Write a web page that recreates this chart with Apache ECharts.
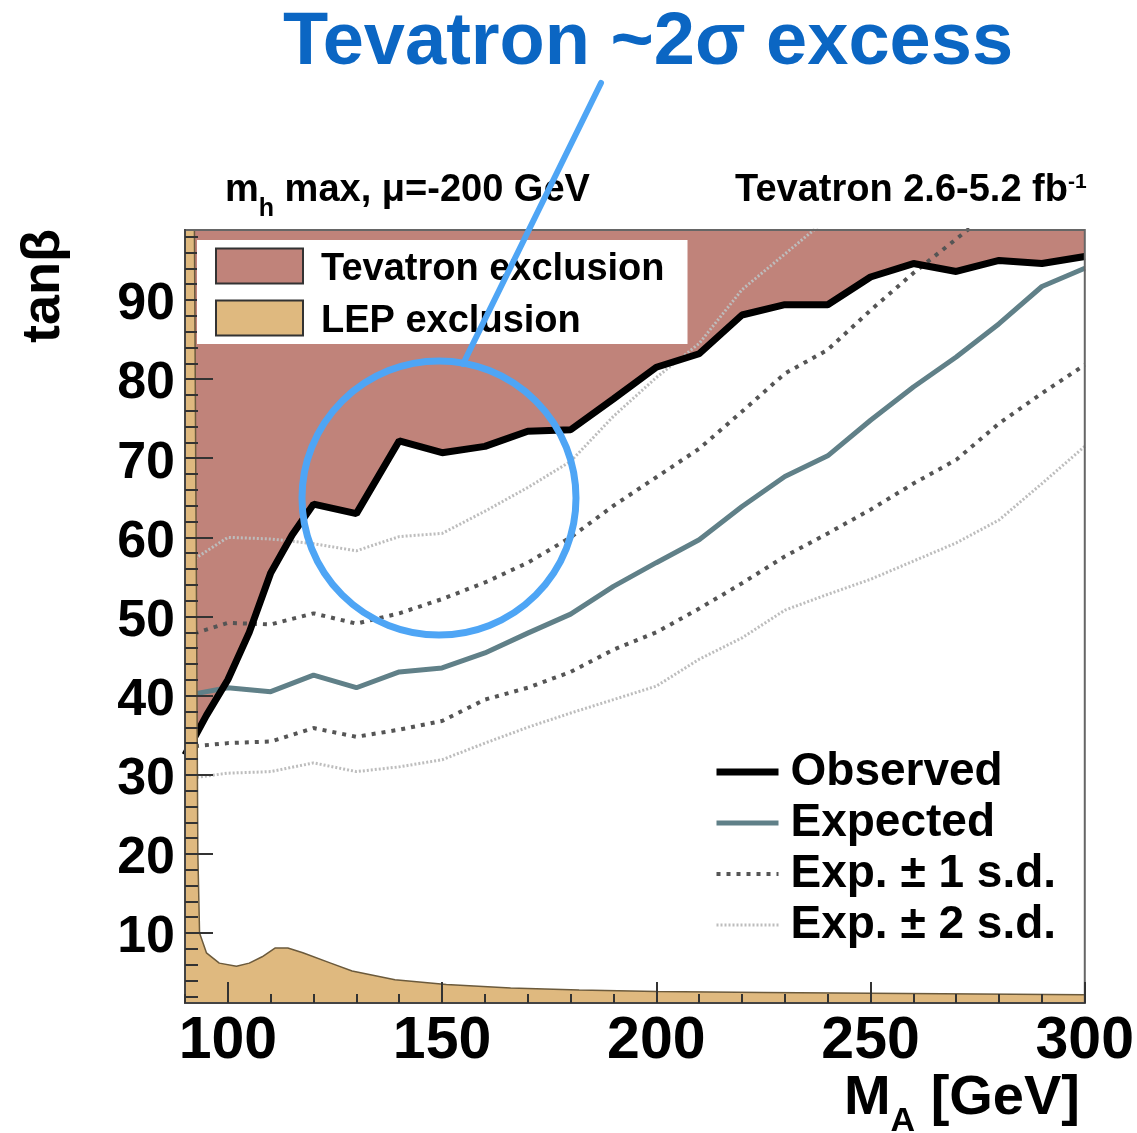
<!DOCTYPE html>
<html><head><meta charset="utf-8">
<script src="https://cdn.jsdelivr.net/npm/echarts@6/dist/echarts.min.js"></script>
<style>html,body{margin:0;padding:0;background:#fff}#c{width:1137px;height:1133px}</style>
</head><body><div id="c"></div>
<script>
// ---- data ----
const mA = [90,100,110,120,130,140,150,160,170,180,190,200,210,220,230,240,250,260,270,280,290,300];
const expected = [40.0,41.0,40.5,42.6,41.0,43.0,43.5,45.4,47.9,50.3,53.8,56.8,59.7,63.9,67.7,70.3,74.8,79.0,82.8,87.0,91.7,94.0];
const plus1sd  = [47.5,49.2,49.0,50.4,49.1,50.4,52.2,54.3,56.8,60.0,64.0,67.6,71.2,75.9,80.7,83.7,88.7,93.4,97.7,102.0,null,null];
const minus1sd = [33.5,34.0,34.2,35.9,34.8,35.7,36.8,39.5,41.0,43.0,45.8,48.0,51.0,54.2,57.6,60.5,63.5,66.8,69.8,74.4,78.2,81.8];
const plus2sd  = [56.5,60.0,59.8,59.2,58.3,60.1,60.5,63.3,66.3,69.6,75.3,80.2,84.5,91.3,95.8,100.3,null,null,null,null,null,null];
const minus2sd = [29.5,30.2,30.4,31.5,30.4,31.0,31.9,34.0,36.0,37.8,39.5,41.2,44.6,47.3,50.8,52.8,54.7,57.0,59.3,62.2,66.8,71.5];
const obsMA    = [90,95,100,105,110,115,120,130,140,150,160,170,180,190,200,210,220,230,240,250,260,270,280,290,300];
const observed = [32.5,37.5,42.0,48.0,55.5,60.3,64.2,63.0,72.2,70.7,71.5,73.4,73.6,77.5,81.5,83.2,88.1,89.4,89.4,92.9,94.6,93.6,95.0,94.6,95.5];
const lepMA    = [90,92.2,92.6,93.0,93.4,95,98,102,105,108,111,114,117.5,124,129,139,151,166,182,200,225,250,275,300];
const lepTanB  = [98.84,98.84,60,20,10,7.5,6.2,5.8,6.2,7.0,8.1,8.1,7.5,6.2,5.2,4.1,3.5,3.05,2.8,2.6,2.5,2.4,2.3,2.2];
const xMajorTicks = [100,150,200,250,300];
const xMinorTicks = [90,100,110,120,130,140,150,160,170,180,190,200,210,220,230,240,250,260,270,280,290,300];
const yMajorTicks = [10,20,30,40,50,60,70,80,90];
const yMinorTicks = [2,4,6,8,10,12,14,16,18,20,22,24,26,28,30,32,34,36,38,40,42,44,46,48,50,52,54,56,58,60,62,64,66,68,70,72,74,76,78,80,82,84,86,88,90,92,94,96,98];

// ---- chart ----
const FONT = 'Liberation Sans, Arial, Helvetica, sans-serif';
const X_MIN = 90, X_MAX = 300, Y_MIN = 1.16, Y_MAX = 98.84;
const RED = '#c0837a', LEP = '#dfb97f';
const STY = {
  obs:  {color: '#000', width: 7},
  exp:  {color: '#608088', width: 5},
  sd1:  {color: '#555', width: 4, type: [4, 6]},
  sd2:  {color: '#bdbdbd', width: 3, type: [2, 2]}
};
const pairs = (xs, ys) => xs.map((x, i) => [x, ys[i]]);
const chart = echarts.init(document.getElementById('c'), null, {renderer: 'canvas'});

const baseX = {type: 'value', min: X_MIN, max: X_MAX, splitLine: {show: false}, z: 10};
const baseY = {type: 'value', min: Y_MIN, max: Y_MAX, splitLine: {show: false}, z: 10};
const lineSeries = (name, ys, style, xs, z) => ({
  type: 'line', name, data: pairs(xs || mA, ys), symbol: 'none', showSymbol: false, z: z || 2,
  lineStyle: style, itemStyle: {color: style.color}, clip: true, silent: true, animation: false
});
const hiddenSym = {color: 'transparent', borderColor: 'transparent', borderWidth: 0, opacity: 0};

chart.setOption({
  animation: false,
  backgroundColor: '#fff',
  grid: {left: 185, right: 52, top: 230, bottom: 130, show: true, borderColor: '#666', borderWidth: 2, backgroundColor: 'transparent', z: 10},
  xAxis: [
    Object.assign({}, baseX, {
      position: 'bottom',
      axisLine: {show: true, lineStyle: {color: '#444', width: 2}},
      axisTick: {show: true, inside: true, length: 21, customValues: xMajorTicks, lineStyle: {color: '#333', width: 2}},
      axisLabel: {show: true, customValues: xMajorTicks, margin: 9, fontSize: 59, fontWeight: 'bold', fontFamily: FONT, color: '#000'}
    }),
    Object.assign({}, baseX, {
      position: 'bottom',
      axisLine: {show: false},
      axisTick: {show: true, inside: true, length: 9, customValues: xMinorTicks, lineStyle: {color: '#333', width: 2}},
      axisLabel: {show: false}
    })
  ],
  yAxis: [
    Object.assign({}, baseY, {
      position: 'left',
      axisLine: {show: true, lineStyle: {color: '#444', width: 2}},
      axisTick: {show: true, inside: true, length: 28, customValues: yMajorTicks, lineStyle: {color: '#333', width: 2}},
      axisLabel: {show: true, customValues: yMajorTicks, margin: 10, verticalAlign: 'top', lineHeight: 10,
        fontSize: 52, fontWeight: 'bold', fontFamily: FONT, color: '#000'}
    }),
    Object.assign({}, baseY, {
      position: 'left',
      axisLine: {show: false},
      axisTick: {show: true, inside: true, length: 13, customValues: yMinorTicks, lineStyle: {color: '#333', width: 2}},
      axisLabel: {show: false}
    })
  ],
  legend: [
    {
      left: 197, top: 240, orient: 'vertical', selectedMode: false, z: 20,
      backgroundColor: '#fff', padding: [3, 23, 3, 18],
      itemWidth: 87, itemHeight: 35, itemGap: 6,
      formatter: name => '{g| }{t|' + name + '}',
      textStyle: {fontSize: 38, fontWeight: 'bold', fontFamily: FONT, color: '#000',
        rich: {
          g: {fontSize: 4, lineHeight: 46, width: 13, verticalAlign: 'top'},
          t: {fontSize: 38, lineHeight: 38, fontWeight: 'bold', fontFamily: FONT, color: '#000', verticalAlign: 'bottom'}
        }},
      data: [
        {name: 'Tevatron exclusion', icon: 'rect', itemStyle: {color: RED, borderColor: '#333', borderWidth: 2}},
        {name: 'LEP exclusion', icon: 'rect', itemStyle: {color: LEP, borderColor: '#333', borderWidth: 2}}
      ]
    },
    {
      left: 713, top: 749, orient: 'vertical', selectedMode: false, z: 20,
      padding: 0, itemWidth: 62, itemHeight: 14, itemGap: 5,
      itemStyle: hiddenSym,
      textStyle: {fontSize: 46, fontWeight: 'bold', fontFamily: FONT, color: '#000', padding: [0, 0, 0, 7]},
      data: [
        {name: 'Observed', itemStyle: hiddenSym, lineStyle: STY.obs},
        {name: 'Expected', itemStyle: hiddenSym, lineStyle: STY.exp},
        {name: 'Exp. ± 1 s.d.', itemStyle: hiddenSym, lineStyle: STY.sd1},
        {name: 'Exp. ± 2 s.d.', itemStyle: hiddenSym, lineStyle: STY.sd2}
      ]
    }
  ],
  series: [
    {
      type: 'line', name: 'Tevatron exclusion', data: pairs(obsMA, observed), symbol: 'none', z: 1,
      lineStyle: {width: 0, color: RED}, itemStyle: {color: RED},
      areaStyle: {color: RED, opacity: 1, origin: 'end'}, silent: true
    },
    lineSeries('Exp. ± 2 s.d.', plus2sd, STY.sd2),
    lineSeries('Exp. ± 2 s.d.', minus2sd, STY.sd2),
    lineSeries('Exp. ± 1 s.d.', plus1sd, STY.sd1),
    lineSeries('Exp. ± 1 s.d.', minus1sd, STY.sd1),
    lineSeries('Expected', expected, STY.exp),
    lineSeries('Observed', observed, STY.obs, obsMA, 3),
    {
      type: 'line', name: 'LEP exclusion', data: pairs(lepMA, lepTanB), symbol: 'none', z: 4,
      lineStyle: {width: 1.5, color: '#6b5a3c'}, itemStyle: {color: LEP},
      areaStyle: {color: LEP, opacity: 1, origin: 'start'}, silent: true
    }
  ],
  graphic: [
    {type: 'text', z: 50, style: {text: 'Tevatron ~2σ excess', x: 648, y: 44, align: 'center', verticalAlign: 'middle',
      fontSize: 74, fontWeight: 'bold', fontFamily: FONT, fill: '#0b66c3'}},
    {type: 'text', z: 50, style: {text: '{a|m}{s|h}{a| max, μ=-200 GeV}', x: 225, y: 171.8, align: 'left', verticalAlign: 'top',
      rich: {a: {fontSize: 38, lineHeight: 38, fontWeight: 'bold', fontFamily: FONT, fill: '#000', verticalAlign: 'top'},
             s: {fontSize: 25, fontWeight: 'bold', fontFamily: FONT, fill: '#000', verticalAlign: 'top', padding: [25, 0, 0, 0]}}}},
    {type: 'text', z: 50, style: {text: '{a|Tevatron 2.6-5.2 fb}{p|-1}', x: 735, y: 171.8, align: 'left', verticalAlign: 'top',
      rich: {a: {fontSize: 38, lineHeight: 38, fontWeight: 'bold', fontFamily: FONT, fill: '#000', verticalAlign: 'top'},
             p: {fontSize: 21, lineHeight: 21, fontWeight: 'bold', fontFamily: FONT, fill: '#000', verticalAlign: 'top'}}}},
    {type: 'text', z: 50, style: {text: '{a|M}{s|A}{a| [GeV]}', x: 1080, y: 1071, align: 'right', verticalAlign: 'top',
      rich: {a: {fontSize: 56, lineHeight: 56, fontWeight: 'bold', fontFamily: FONT, fill: '#000', verticalAlign: 'top'},
             s: {fontSize: 34, fontWeight: 'bold', fontFamily: FONT, fill: '#000', verticalAlign: 'top', padding: [34, 0, 0, 0]}}}},
    {type: 'text', z: 50, x: 44, y: 286, rotation: Math.PI / 2,
      style: {text: 'tanβ', x: 0, y: 0, align: 'center', verticalAlign: 'middle', fontSize: 54, fontWeight: 'bold', fontFamily: FONT, fill: '#000'}},
    {type: 'circle', z: 60, shape: {cx: 439, cy: 498, r: 137}, style: {fill: 'none', stroke: '#4ea5f5', lineWidth: 7}},
    {type: 'line', z: 60, shape: {x1: 601, y1: 83, x2: 463, y2: 364}, style: {stroke: '#4ea5f5', lineWidth: 6, lineCap: 'round'}}
  ]
});
</script>
</body></html>
